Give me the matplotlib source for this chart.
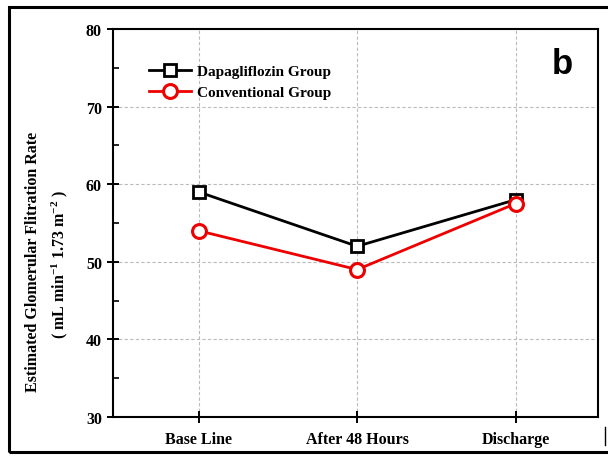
import matplotlib.pyplot as plt
import matplotlib.patches as mpatches
from matplotlib.lines import Line2D
from matplotlib.ticker import MultipleLocator

# data
stages = ["Base Line", "After 48 Hours", "Discharge"]
dapa = [59, 52, 58]
conv = [54, 49, 57.5]

plt.rcParams['font.family'] = ['Liberation Serif', 'DejaVu Serif']
plt.rcParams['font.weight'] = 'bold'
plt.rcParams['mathtext.fontset'] = 'custom'
plt.rcParams['mathtext.rm'] = 'Liberation Serif:bold'
plt.rcParams['mathtext.default'] = 'rm'

fig = plt.figure(figsize=(6.08, 4.60), dpi=100)
ax = fig.add_axes([0.186, 0.0913, 0.7976, 0.8435])

x = range(len(stages))
ax.plot(x, dapa, '-s', color='black', lw=2.0, ms=9, mfc='white', mec='black',
        mew=2.0, label="Dapagliflozin Group", zorder=3)
ax.plot(x, conv, '-o', color='#ee0000', lw=2.0, ms=10, mfc='white', mec='#ee0000',
        mew=2.2, label="Conventional Group", zorder=4)

ax.set_xlim(-0.54, 2.52)
ax.set_ylim(30, 80)
ax.set_xticks(list(x))
ax.set_xticklabels(stages)
ax.yaxis.set_major_locator(MultipleLocator(10))
ax.yaxis.set_minor_locator(MultipleLocator(5))

ax.grid(True, which='major', color='#bbbbbb', linestyle=(0, (3, 2)), lw=0.8)
ax.tick_params(axis='both', which='major', direction='inout', length=8, width=1.4,
               labelsize=11.5, pad=4)
ax.tick_params(axis='y', which='minor', direction='in', length=4, width=1.2)
ax.tick_params(axis='x', pad=6)
for s in ax.spines.values():
    s.set_linewidth(1.5)

for lab in ax.get_xticklabels() + ax.get_yticklabels():
    lab.set_fontweight('bold')

# y label, two lines placed where the reference has them
fig.text(0.054, 0.43, "Estimated Glomerular Flitration Rate", rotation=90,
         ha='center', va='center', fontsize=11.5, fontweight='bold')
fig.text(0.099, 0.426, "( mL min$^{-1}$ 1.73 m$^{-2}$ )", rotation=90,
         ha='center', va='center', fontsize=11.5, fontweight='bold')

leg = ax.legend(loc='upper left', bbox_to_anchor=(0.062, 0.925), frameon=False,
                prop={'weight': 'bold', 'size': 11}, handlelength=2.75,
                handletextpad=0.4, labelspacing=0.5, borderaxespad=0)

ax.text(0.926, 0.912, "b", transform=ax.transAxes, ha='center', va='center',
        fontsize=25, fontweight='bold', family='Liberation Sans')

# outer panel frame
fig.patches.append(mpatches.Rectangle((0.0148, 0.0152), 1.2, 0.9674, transform=fig.transFigure,
                                      fill=False, lw=2.2, ec='black', clip_on=False))
fig.lines.append(Line2D([0.995, 0.995], [0.03, 0.07], transform=fig.transFigure,
                        color='black', lw=1))

fig.savefig("out.png", dpi=100)
